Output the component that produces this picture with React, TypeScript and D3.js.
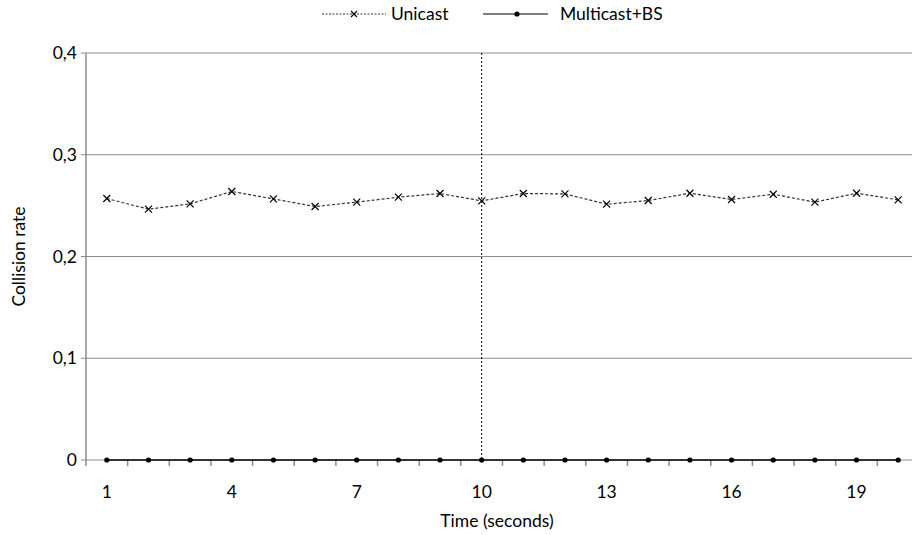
import React from "react";
import * as d3 from "d3";

const categories = ["1","2","3","4","5","6","7","8","9","10","11","12","13","14","15","16","17","18","19","20"];
const unicast = [0.257,0.2465,0.2517,0.2639,0.2566,0.2491,0.2534,0.2583,0.2619,0.2547,0.2619,0.2615,0.2514,0.255,0.2622,0.256,0.2612,0.2534,0.2622,0.2557];
const multicastBS = [0,0,0,0,0,0,0,0,0,0,0,0,0,0,0,0,0,0,0,0];
const yTicks = [0,0.1,0.2,0.3,0.4];
const xLabelShown = ["1","4","7","10","13","16","19"];
const markerCategory = "10";

const W = 912, H = 535;
const left = 86, top = 53, bottom = 460, bandW = 41.65;
const font = "Lato, 'Open Sans', sans-serif";
const fs = 17.5;

export default function App() {
  const x = d3.scaleBand<string>().domain(categories).range([left, left + bandW * categories.length]).paddingInner(0).paddingOuter(0);
  const cx = (c: string) => (x(c) as number) + x.bandwidth() / 2;
  const y = d3.scaleLinear().domain([0, 0.4]).range([bottom, top]);
  const lineGen = d3.line<number>().x((_, i) => cx(categories[i])).y(d => y(d));
  const fmt = (v: number) => (v === 0 ? "0" : v.toFixed(1).replace(".", ","));
  const boundaries = categories.map(c => x(c) as number).concat([left + bandW * categories.length]);

  return (
    <svg width={W} height={H} style={{ position: "fixed", left: 0, top: 0, background: "#fff" }} fontFamily={font}>
      <rect x={0} y={0} width={W} height={H} fill="#fff" />
      {yTicks.map(t => (
        <g key={t}>
          <line x1={left - 5} x2={W} y1={y(t)} y2={y(t)} stroke="#8c8c8c" strokeWidth={1} />
          <text x={77} y={y(t)} dy="0.35em" textAnchor="end" fontSize={fs} fill="#000">{fmt(t)}</text>
        </g>
      ))}
      <line x1={left} x2={left} y1={top} y2={bottom} stroke="#8c8c8c" strokeWidth={1.5} />
      {boundaries.map((b, i) => (
        <line key={i} x1={b} x2={b} y1={bottom} y2={bottom + 6} stroke="#8c8c8c" strokeWidth={1.5} />
      ))}
      {categories.filter(c => xLabelShown.includes(c)).map(c => (
        <text key={c} x={cx(c)} y={492} dy="0.35em" textAnchor="middle" fontSize={fs} fill="#000">{c}</text>
      ))}
      <line x1={cx(markerCategory)} x2={cx(markerCategory)} y1={top} y2={bottom} stroke="#000" strokeWidth={1} strokeDasharray="2,2" />
      <path d={lineGen(unicast) || ""} fill="none" stroke="#333" strokeWidth={1.2} strokeDasharray="3,2" />
      {unicast.map((v, i) => {
        const px = cx(categories[i]), py = y(v), s = 3.5;
        return (
          <path key={i} d={`M${px - s},${py - s}L${px + s},${py + s}M${px - s},${py + s}L${px + s},${py - s}`} stroke="#000" strokeWidth={1.2} />
        );
      })}
      <path d={lineGen(multicastBS) || ""} fill="none" stroke="#000" strokeWidth={1.5} />
      {multicastBS.map((v, i) => (
        <circle key={i} cx={cx(categories[i])} cy={y(v)} r={2.6} fill="#000" />
      ))}
      <text transform={`translate(19,${(top + bottom) / 2}) rotate(-90)`} textAnchor="middle" dy="0.35em" fontSize={fs} fill="#000">Collision rate</text>
      <text x={497} y={521} textAnchor="middle" dy="0.35em" fontSize={fs} fill="#000">Time (seconds)</text>
      <g>
        <line x1={322} x2={386} y1={14} y2={14} stroke="#333" strokeWidth={1} strokeDasharray="2,1.5" />
        <path d="M351,11L357,17M351,17L357,11" stroke="#000" strokeWidth={1.1} />
        <text x={391} y={14} dy="0.35em" fontSize={fs} fill="#000">Unicast</text>
        <line x1={483} x2={548} y1={14} y2={14} stroke="#000" strokeWidth={1.2} />
        <circle cx={517} cy={14} r={2.6} fill="#000" />
        <text x={560} y={14} dy="0.35em" fontSize={fs} fill="#000">Multicast+BS</text>
      </g>
    </svg>
  );
}
